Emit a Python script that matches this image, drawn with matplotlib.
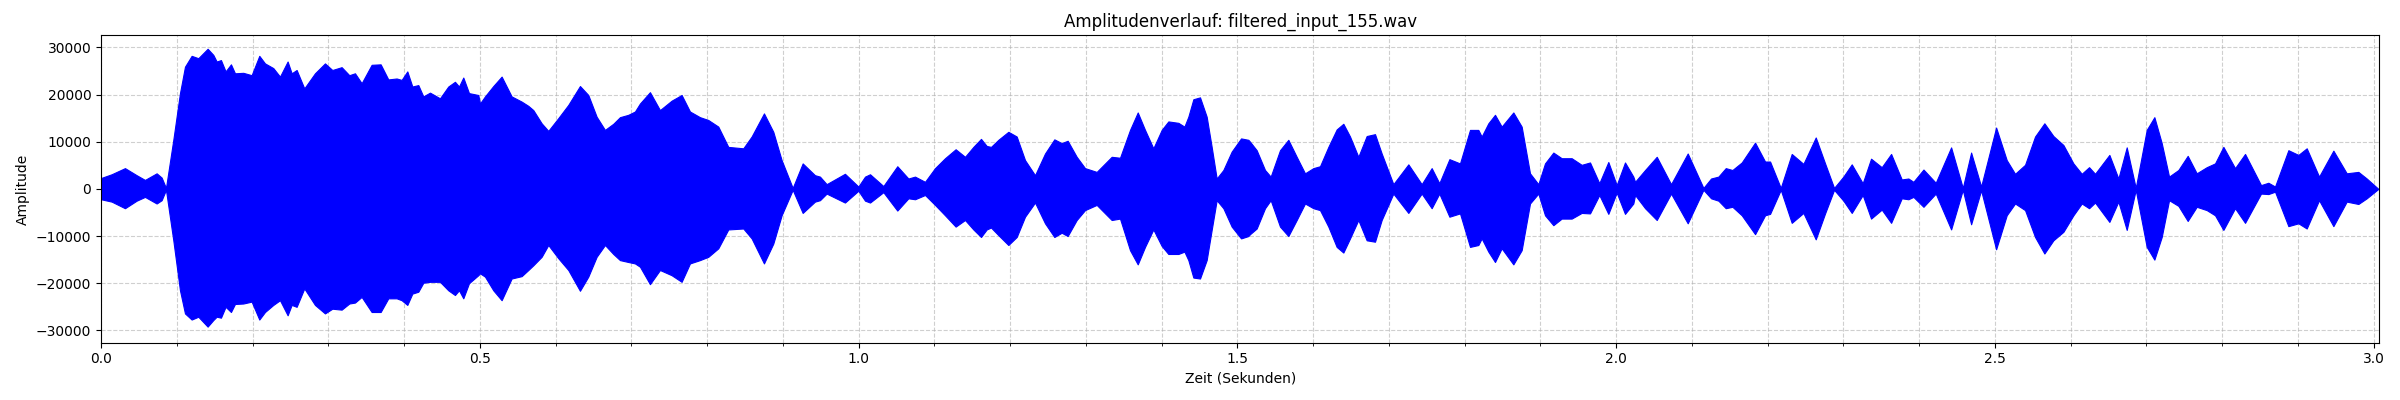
import matplotlib
matplotlib.use("Agg")
import matplotlib.pyplot as plt
from matplotlib.ticker import MultipleLocator

# Huellkurve des Signals (Zeit in s, Amplitude)
zeit = [
    0.0, 0.0140, 0.0316, 0.0470, 0.0580, 0.0734, 0.0800, 0.0857, 0.0954, 0.1042,
    0.1108, 0.1196, 0.1284, 0.1407, 0.1482, 0.1526, 0.1583, 0.1644, 0.1715, 0.1768,
    0.1878, 0.1988, 0.2089, 0.2164, 0.2274, 0.2362, 0.2463, 0.2516, 0.2582, 0.2683,
    0.2824, 0.2956, 0.3053, 0.3176, 0.3277, 0.3352, 0.3440, 0.3572, 0.3691, 0.3792,
    0.3902, 0.3968, 0.4043, 0.4109, 0.4188, 0.4254, 0.4342, 0.4474, 0.4584, 0.4672,
    0.4725, 0.4782, 0.4857, 0.4980,
    0.5002, 0.5068, 0.5178, 0.5288, 0.5420, 0.5552, 0.5640, 0.5706, 0.5816, 0.5904,
    0.6036, 0.6168, 0.6322, 0.6432, 0.6542, 0.6652, 0.6762, 0.6850, 0.6960, 0.7048,
    0.7114, 0.7246, 0.7378, 0.7532, 0.7664, 0.7774, 0.7906, 0.8016, 0.8148, 0.8280,
    0.8478, 0.8588, 0.8751, 0.8874, 0.8984, 0.9130, 0.9262, 0.9424, 0.9490, 0.9578,
    0.9820, 0.9997,
    1.0085, 1.0151, 1.0327, 1.0511, 1.0657, 1.0745, 1.0877, 1.1009, 1.1141, 1.1281,
    1.1405, 1.1515, 1.1616, 1.1691, 1.1748, 1.1845, 1.1977, 1.2087, 1.2197, 1.2329,
    1.2461, 1.2584, 1.2681, 1.2760, 1.2879, 1.2989, 1.3143, 1.3341, 1.3451, 1.3583,
    1.3685, 1.3781, 1.3891, 1.4001, 1.4089, 1.4221, 1.4301, 1.4353, 1.4419, 1.4507,
    1.4595, 1.4661, 1.4727, 1.4815, 1.4925, 1.5049, 1.5145,
    1.5167, 1.5255, 1.5365, 1.5440, 1.5563, 1.5673, 1.5783, 1.5893, 1.6003, 1.6091,
    1.6201, 1.6311, 1.6399, 1.6487, 1.6597, 1.6707, 1.6817, 1.6905, 1.7059, 1.7257,
    1.7433, 1.7565, 1.7666, 1.7799, 1.7939, 1.8071, 1.8181, 1.8225, 1.8313, 1.8401,
    1.8489, 1.8643, 1.8753, 1.8863, 1.8973, 1.9061, 1.9171, 1.9281, 1.9413, 1.9545,
    1.9655, 1.9778, 1.9897, 2.0007, 2.0117, 2.0227,
    2.0250, 2.0382, 2.0536, 2.0725, 2.0945, 2.1152, 2.1253, 2.1350, 2.1447, 2.1535,
    2.1658, 2.1834, 2.1966, 2.2032, 2.2173, 2.2318, 2.2472, 2.2635, 2.2758, 2.2877,
    2.3000, 2.3110, 2.3255, 2.3365, 2.3506, 2.3630, 2.3770, 2.3858, 2.3924, 2.4057,
    2.4219, 2.4422, 2.4576, 2.4686, 2.4818, 2.5016, 2.5156,
    2.5266, 2.5398, 2.5530, 2.5653, 2.5772, 2.5904, 2.6036, 2.6146, 2.6243, 2.6322,
    2.6511, 2.6630, 2.6740, 2.6859, 2.7004, 2.7105, 2.7202, 2.7299, 2.7422, 2.7545,
    2.7664, 2.7796, 2.7906, 2.8016, 2.8170, 2.8302, 2.8513, 2.8610, 2.8698, 2.8874,
    2.9006, 2.9116, 2.9279, 2.9468, 2.9644, 2.9798, 2.9908, 3.0062,
]

oben = [
    2300, 3100, 4400, 2900, 1900, 3300, 2400, 200, 10400, 20300,
    25900, 28200, 27700, 29700, 28400, 27000, 27300, 24900, 26400, 24500,
    24600, 24100, 28200, 26600, 25600, 23800, 27000, 24500, 25200, 21300,
    24500, 26600, 25200, 25800, 24100, 24500, 22400, 26300, 26400, 23200,
    23400, 23100, 24900, 21700, 22000, 19600, 20400, 19200, 21700, 22700,
    21700, 23600, 20300, 19900,
    18100, 19600, 21800, 23800, 19600, 18500, 17600, 16700, 13900, 12300,
    15000, 17800, 21800, 19900, 15300, 12500, 13800, 15200, 15700, 16400,
    18100, 20500, 16700, 18700, 19900, 16400, 15200, 14600, 13200, 8900,
    8600, 11100, 16000, 12100, 6100, 200, 5400, 2900, 2600, 1000,
    3200, 500,
    2600, 3100, 600, 4800, 2200, 2600, 1500, 4400, 6500, 8400,
    6800, 8900, 10600, 9100, 8900, 10400, 12100, 11100, 6100, 2900,
    7500, 10500, 9700, 10200, 6800, 4400, 3600, 6800, 6600, 12500,
    16200, 12500, 8600, 12500, 14300, 14000, 13200, 15300, 19000, 19400,
    15300, 8900, 2200, 4000, 7900, 10700, 10400,
    10000, 8200, 4000, 2600, 8200, 10400, 6800, 3300, 4400, 4800,
    8900, 12600, 13800, 11100, 6800, 11200, 11600, 7500, 1000, 5200,
    1000, 4400, 1200, 6300, 5400, 12500, 12500, 11100, 13900, 15700,
    13200, 16200, 13200, 3300, 1000, 5400, 7700, 6500, 6500, 5100,
    5600, 1200, 5700, 800, 5600, 2600,
    1500, 4000, 6800, 1000, 7500, 200, 2200, 2600, 4400, 4000,
    5600, 9800, 5800, 5800, 200, 7400, 5300, 10900, 5400, 200,
    2600, 5200, 1200, 6400, 4600, 7400, 2000, 2200, 1500, 4100,
    1300, 8800, 200, 7700, 500, 13000, 6100,
    3200, 5100, 11100, 13900, 11200, 9300, 5400, 3200, 4600, 3200,
    7200, 2200, 8800, 200, 12500, 15200, 9700, 2600, 4000, 7000,
    3300, 4600, 5400, 8900, 4400, 7400, 800, 1300, 500, 8200,
    7200, 8600, 2600, 8100, 3300, 3600, 2200, 0,
]

unten = [
    -2200, -2700, -4100, -2500, -1700, -3100, -2400, -200, -10900, -21500,
    -26400, -27700, -27100, -29200, -27800, -27100, -27300, -25000, -26100, -24400,
    -24300, -23900, -27700, -26100, -24600, -23600, -26800, -24600, -25000, -21100,
    -24600, -26400, -25400, -25600, -24300, -24100, -22900, -26100, -26100, -23200,
    -23200, -23600, -24600, -22200, -21800, -19900, -19700, -19700, -21500, -22500,
    -21500, -23200, -20000, -18300,
    -17900, -18600, -21500, -23600, -19000, -18500, -17200, -16200, -14400, -11900,
    -14700, -17200, -21600, -18600, -14400, -11900, -13800, -15100, -15500, -15800,
    -16500, -20200, -17200, -18300, -19700, -15800, -15100, -14400, -12600, -8600,
    -8400, -10500, -15800, -11600, -5600, -200, -5100, -2700, -2400, -1000,
    -2900, -400,
    -2500, -2900, -700, -4600, -2000, -2200, -1300, -3400, -5600, -8000,
    -6600, -8600, -10200, -8600, -8200, -9800, -11900, -10200, -5900, -2900,
    -7300, -10200, -9300, -10000, -6600, -4500, -3400, -6600, -6300, -13000,
    -16000, -12300, -8600, -12100, -13800, -13800, -13300, -15100, -18800, -19000,
    -15100, -8700, -2400, -4100, -8000, -10500, -10000,
    -9600, -8400, -4100, -2400, -8000, -10000, -6600, -3100, -4100, -4500,
    -8000, -12300, -13500, -10500, -6600, -10900, -11200, -6600, -1000, -5100,
    -1000, -4100, -1000, -5900, -5200, -12300, -11900, -10500, -13300, -15500,
    -12600, -16000, -13000, -3100, -1000, -5600, -7700, -6300, -6300, -5100,
    -5200, -1300, -5300, -800, -5300, -3100,
    -1300, -4100, -6600, -1000, -7300, -200, -2000, -2500, -4100, -3800,
    -5600, -9600, -5600, -5300, -200, -7200, -5100, -10700, -5200, -200,
    -2500, -5100, -1300, -6300, -4400, -7200, -2000, -2200, -1700, -3800,
    -1000, -8600, -200, -7500, -300, -12800, -5600,
    -3100, -4500, -10200, -13700, -10900, -9100, -5600, -3100, -4100, -2900,
    -7000, -2700, -8700, -200, -12300, -15000, -10200, -2400, -3600, -6800,
    -3800, -4500, -5600, -8700, -4100, -7200, -1000, -1100, -600, -7900,
    -7300, -8400, -2400, -7900, -2700, -3200, -2000, 0,
]

dauer = 3.0075

fig, ax = plt.subplots(figsize=(24, 4), dpi=100)
ax.fill_between(zeit, unten, oben, color="blue", linewidth=0.8, zorder=2)

ax.set_xlim(0, dauer)
ax.set_ylim(-32600, 32550)
ax.xaxis.set_major_locator(MultipleLocator(0.5))
ax.xaxis.set_minor_locator(MultipleLocator(0.1))
ax.grid(True, which="both", linestyle="--", alpha=0.6)

ax.set_title("Amplitudenverlauf: filtered_input_155.wav")
ax.set_xlabel("Zeit (Sekunden)")
ax.set_ylabel("Amplitude")

fig.subplots_adjust(left=0.0421, right=0.9914, top=0.9117, bottom=0.1433)
fig.savefig("out.png")
